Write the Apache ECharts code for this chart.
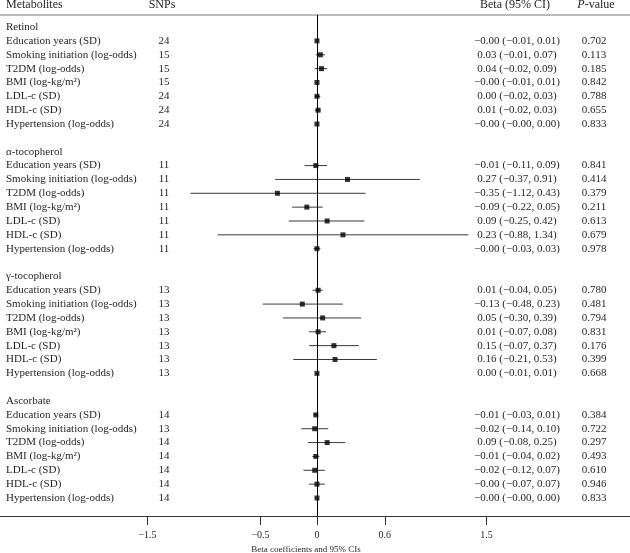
<!DOCTYPE html>
<html>
<head>
<meta charset="utf-8">
<script src="https://cdn.jsdelivr.net/npm/echarts@6/dist/echarts.min.js"></script>
<style>
html,body{margin:0;padding:0;background:#fff;}
#c{width:630px;height:553px;}
</style>
</head>
<body>
<div id="c"></div>
<script>
const groups = ['Retinol', 'α-tocopherol', 'γ-tocopherol', 'Ascorbate'];
const outcomes = ['Education years (SD)', 'Smoking initiation (log-odds)', 'T2DM (log-odds)', 'BMI (log-kg/m²)', 'LDL-c (SD)', 'HDL-c (SD)', 'Hypertension (log-odds)'];
const snps = [
  [24, 15, 15, 15, 24, 24, 24],
  [11, 11, 11, 11, 11, 11, 11],
  [13, 13, 13, 13, 13, 13, 13],
  [14, 13, 14, 14, 14, 14, 14]
];
const beta = [
  [-0.00, 0.03, 0.04, -0.00, 0.00, 0.01, -0.00],
  [-0.01, 0.27, -0.35, -0.09, 0.09, 0.23, -0.00],
  [0.01, -0.13, 0.05, 0.01, 0.15, 0.16, 0.00],
  [-0.01, -0.02, 0.09, -0.01, -0.02, -0.00, -0.00]
];
const lower = [
  [-0.01, -0.01, -0.02, -0.01, -0.02, -0.02, -0.00],
  [-0.11, -0.37, -1.12, -0.22, -0.25, -0.88, -0.03],
  [-0.04, -0.48, -0.30, -0.07, -0.07, -0.21, -0.01],
  [-0.03, -0.14, -0.08, -0.04, -0.12, -0.07, -0.00]
];
const upper = [
  [0.01, 0.07, 0.09, 0.01, 0.03, 0.03, 0.00],
  [0.09, 0.91, 0.43, 0.05, 0.42, 1.34, 0.03],
  [0.05, 0.23, 0.39, 0.08, 0.37, 0.53, 0.01],
  [0.01, 0.10, 0.25, 0.02, 0.07, 0.07, 0.00]
];
const pval = [
  [0.702, 0.113, 0.185, 0.842, 0.788, 0.655, 0.833],
  [0.841, 0.414, 0.379, 0.211, 0.613, 0.679, 0.978],
  [0.780, 0.481, 0.794, 0.831, 0.176, 0.399, 0.668],
  [0.384, 0.722, 0.297, 0.493, 0.610, 0.946, 0.833]
];
const xTicks = [-1.5, -0.5, 0, 0.6, 1.5];
const headers = ['Metabolites', 'SNPs', 'Beta (95% CI)', 'P-value'];
const xAxisTitle = 'Beta coefficients and 95% CIs';

// ---- build rows ----
function fmt(v) {
  const neg = v < 0 || Object.is(v, -0);
  return (neg ? '\u2212' : '') + Math.abs(v).toFixed(2);
}
const textRows = [];
const ciData = [];
const ptData = [];
groups.forEach((g, gi) => {
  const base = gi * 9;
  textRows.push({ row: base, label: g });
  outcomes.forEach((o, j) => {
    const row = base + 1 + j;
    textRows.push({
      row: row,
      label: o,
      snp: String(snps[gi][j]),
      ci: fmt(beta[gi][j]) + ' (' + fmt(lower[gi][j]) + ', ' + fmt(upper[gi][j]) + ')',
      p: pval[gi][j].toFixed(3)
    });
    ciData.push([lower[gi][j], upper[gi][j], row]);
    ptData.push([beta[gi][j], row]);
  });
});

const SERIF = '"Liberation Serif", "DejaVu Serif", serif';
const FONT = '11px ' + SERIF;
const HFONT = '12px ' + SERIF;
const TXT = '#231f20';
const COL_LABEL = 6, COL_SNP = 164, COL_CI = 517, COL_P = 594;

const chart = echarts.init(document.getElementById('c'), null, { renderer: 'canvas' });
chart.setOption({
  animation: false,
  backgroundColor: '#fff',
  grid: { left: 0, right: 0, top: 15, bottom: 37, containLabel: false, outerBoundsMode: 'none' },
  xAxis: [{
    type: 'value', min: -2.805, max: 2.77, position: 'bottom',
    splitLine: { show: false },
    axisLine: { show: true, onZero: false, lineStyle: { color: '#333', width: 1 } },
    axisTick: { show: true, inside: false, length: 9, customValues: xTicks, lineStyle: { color: '#333' } },
    axisLabel: {
      customValues: xTicks, margin: 14, color: TXT, fontFamily: SERIF, fontSize: 10,
      formatter: v => String(v).replace('-', '\u2212')
    },
    name: xAxisTitle, nameLocation: 'middle', nameGap: 27,
    nameTextStyle: { color: TXT, fontFamily: SERIF, fontSize: 9, padding: [0, 18, 0, 0] }
  }, {
    type: 'value', min: -2.805, max: 2.77, position: 'top',
    splitLine: { show: false },
    axisLine: { show: true, onZero: false, lineStyle: { color: '#a6a6a6', width: 1.5 } },
    axisTick: { show: false }, axisLabel: { show: false }
  }],
  yAxis: {
    type: 'value', inverse: true, min: -0.872, max: 35.3, show: false
  },
  graphic: [
    { type: 'text', x: COL_LABEL, y: 5, style: { text: headers[0], font: HFONT, fill: TXT, align: 'left', verticalAlign: 'middle' } },
    { type: 'text', x: 162, y: 5, style: { text: headers[1], font: HFONT, fill: TXT, align: 'center', verticalAlign: 'middle' } },
    { type: 'text', x: 515, y: 5, style: { text: headers[2], font: HFONT, fill: TXT, align: 'center', verticalAlign: 'middle' } },
    { type: 'text', x: 596, y: 5, style: {
      text: '{i|' + headers[3].slice(0, 1) + '}{n|' + headers[3].slice(1) + '}',
      align: 'center', verticalAlign: 'middle',
      rich: {
        i: { fontStyle: 'italic', fontFamily: SERIF, fontSize: 12, fill: TXT, color: TXT },
        n: { fontFamily: SERIF, fontSize: 12, fill: TXT, color: TXT }
      }
    } }
  ],
  series: [
    {
      type: 'custom',
      name: 'ci',
      xAxisIndex: 0,
      data: ciData,
      encode: { x: [0, 1], y: 2 },
      renderItem: function (params, api) {
        const s = api.coord([api.value(0), api.value(2)]);
        const e = api.coord([api.value(1), api.value(2)]);
        return { type: 'line', shape: { x1: s[0], y1: s[1], x2: e[0], y2: e[1] }, style: { stroke: '#3a3a3a', lineWidth: 1 } };
      },
      silent: true
    },
    {
      type: 'scatter',
      name: 'beta',
      xAxisIndex: 0,
      data: ptData,
      symbol: 'rect',
      symbolSize: 5,
      itemStyle: { color: '#000' },
      silent: true,
      z: 5,
      markLine: {
        silent: true,
        symbol: 'none',
        label: { show: false },
        lineStyle: { color: '#000', width: 1, type: 'solid' },
        data: [{ xAxis: 0 }]
      }
    },
    {
      type: 'custom',
      name: 'text',
      xAxisIndex: 0,
      data: textRows.map(r => [0, r.row]),
      encode: { x: 0, y: 1 },
      silent: true,
      renderItem: function (params, api) {
        const y = api.coord([0, api.value(1)])[1];
        const r = textRows[params.dataIndex];
        const children = [
          { type: 'text', style: { text: r.label, x: COL_LABEL, y: y, font: FONT, fill: TXT, align: 'left', verticalAlign: 'middle' } }
        ];
        if (r.snp) {
          children.push({ type: 'text', style: { text: r.snp, x: COL_SNP, y: y, font: FONT, fill: TXT, align: 'center', verticalAlign: 'middle' } });
          children.push({ type: 'text', style: { text: r.ci, x: COL_CI, y: y, font: FONT, fill: TXT, align: 'center', verticalAlign: 'middle' } });
          children.push({ type: 'text', style: { text: r.p, x: COL_P, y: y, font: FONT, fill: TXT, align: 'center', verticalAlign: 'middle' } });
        }
        return { type: 'group', children: children };
      }
    }
  ]
});
</script>
</body>
</html>
